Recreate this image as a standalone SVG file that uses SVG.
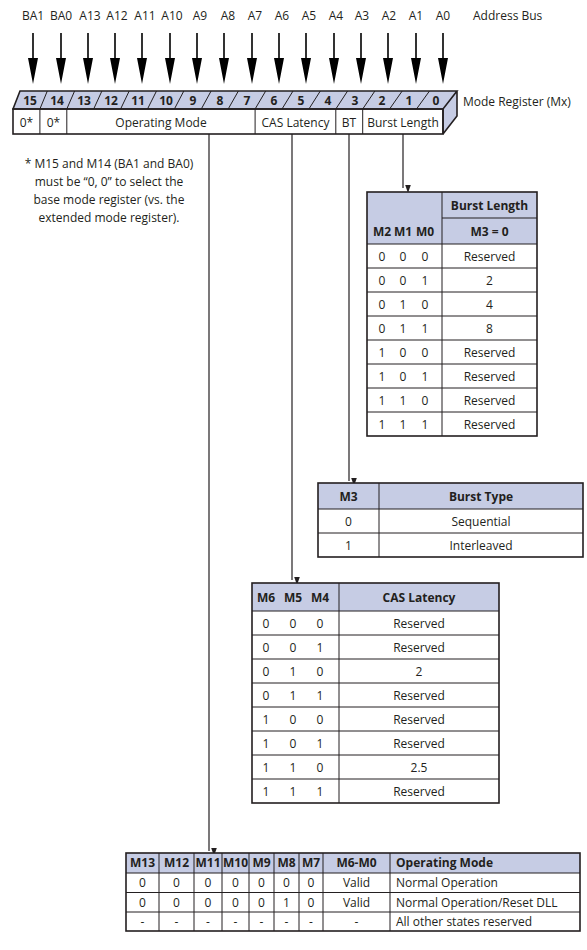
<svg xmlns="http://www.w3.org/2000/svg" width="587" height="950" viewBox="0 0 587 950">
<defs>
<style>
text{font-family:"Open Sans","Liberation Sans",sans-serif;fill:#231f20;font-size:12px}
.b{font-weight:bold}
.m{text-anchor:middle}
.hd{fill:#c6cce4}
.ln{stroke:#231f20;stroke-width:1;fill:none}
.ob{stroke:#231f20;stroke-width:1.6;fill:none}
.conn{stroke:#231f20;stroke-width:1.2;fill:none}
.bus{stroke:#000;stroke-width:1.6}
</style>
<marker id="ah" markerWidth="7" markerHeight="10" refX="3.5" refY="10" orient="auto" markerUnits="userSpaceOnUse" viewBox="0 0 7 10">
<path d="M0,0 L7,0 L3.5,10 Z" fill="#231f20" transform="rotate(-90 3.5 5)"/>
</marker>
</defs>
<rect width="587" height="950" fill="#fff"/>

<g id="address-bus">
<text class="m" x="33" y="20">BA1</text>
<text class="m" x="61" y="20">BA0</text>
<text class="m" x="90" y="20">A13</text>
<text class="m" x="117" y="20">A12</text>
<text class="m" x="145" y="20">A11</text>
<text class="m" x="172" y="20">A10</text>
<text class="m" x="200" y="20">A9</text>
<text class="m" x="228" y="20">A8</text>
<text class="m" x="255" y="20">A7</text>
<text class="m" x="282" y="20">A6</text>
<text class="m" x="309" y="20">A5</text>
<text class="m" x="336" y="20">A4</text>
<text class="m" x="362" y="20">A3</text>
<text class="m" x="389" y="20">A2</text>
<text class="m" x="416" y="20">A1</text>
<text class="m" x="443" y="20">A0</text>
<text x="473" y="20">Address Bus</text>
<g fill="#000">
<path class="bus" d="M33,33V60 M61,33V60 M88,33V60 M115,33V60 M142,33V60 M170,33V60 M197,33V60 M224,33V60 M252,33V60 M279,33V60 M306,33V60 M334,33V60 M361,33V60 M388,33V60 M416,33V60 M443,33V60"/>
<path d="M28,58h10l-5,26z M56,58h10l-5,26z M83,58h10l-5,26z M110,58h10l-5,26z M137,58h10l-5,26z M165,58h10l-5,26z M192,58h10l-5,26z M219,58h10l-5,26z M247,58h10l-5,26z M274,58h10l-5,26z M301,58h10l-5,26z M329,58h10l-5,26z M356,58h10l-5,26z M383,58h10l-5,26z M411,58h10l-5,26z M438,58h10l-5,26z"/>
</g>
</g>

<g id="mode-register">
<polygon points="13,109 20,91 457,91 443,109" class="hd"/>
<polygon points="443,109 457,91 457,116 443,134" class="hd"/>
<path class="ob" d="M13,109 L20,91 H457 L443,109 Z M443,109 V134 M457,91 V116 L443,134"/>
<path class="ln" d="M39.9,109 L47.3,91 M66.8,109 L74.6,91 M93.7,109 L101.9,91 M120.6,109 L129.2,91 M147.5,109 L156.5,91 M174.4,109 L183.8,91 M201.3,109 L211.1,91 M228.2,109 L238.4,91 M255.1,109 L265.7,91 M282,109 L293,91 M308.9,109 L320.3,91 M335.8,109 L347.6,91 M362.7,109 L374.9,91 M389.6,109 L402.2,91 M416.5,109 L429.5,91"/>
<g class="b">
<text class="m" x="30" y="105">15</text>
<text class="m" x="57" y="105">14</text>
<text class="m" x="84" y="105">13</text>
<text class="m" x="111" y="105">12</text>
<text class="m" x="138" y="105">11</text>
<text class="m" x="166" y="105">10</text>
<text class="m" x="193" y="105">9</text>
<text class="m" x="220" y="105">8</text>
<text class="m" x="247" y="105">7</text>
<text class="m" x="274" y="105">6</text>
<text class="m" x="301" y="105">5</text>
<text class="m" x="328" y="105">4</text>
<text class="m" x="355" y="105">3</text>
<text class="m" x="382" y="105">2</text>
<text class="m" x="409" y="105">1</text>
<text class="m" x="436" y="105">0</text>
</g>
<rect x="13" y="109" width="430" height="25" class="ob"/>
<path class="ln" d="M39.9,109V134 M66.8,109V134 M255.1,109V134 M335.8,109V134 M362.7,109V134"/>
<text class="m" x="26.5" y="127">0*</text>
<text class="m" x="53.4" y="127">0*</text>
<text class="m" x="161" y="127">Operating Mode</text>
<text class="m" x="295.5" y="127">CAS Latency</text>
<text class="m" x="349" y="127">BT</text>
<text class="m" x="403" y="127">Burst Length</text>
<text x="463" y="106">Mode Register (Mx)</text>
</g>

<g id="footnote">
<text class="m" x="109" y="168">* M15 and M14 (BA1 and BA0)</text>
<text class="m" x="109" y="186">must be “0, 0” to select the</text>
<text class="m" x="109" y="204">base mode register (vs. the</text>
<text class="m" x="109" y="222">extended mode register).</text>
</g>

<g id="connectors">
<path class="conn" d="M403,134V188" marker-end="url(#ah)"/>
<path class="conn" d="M349,134V481" marker-end="url(#ah)"/>
<path class="conn" d="M292,134V580" marker-end="url(#ah)"/>
<path class="conn" d="M209,134V851" marker-end="url(#ah)"/>
</g>

<g id="burst-length-table">
<rect x="367" y="192" width="170" height="52" class="hd"/>
<path class="ln" d="M442,192V436 M442,218H537 M367,244H537 M367,268H537 M367,292H537 M367,316H537 M367,340H537 M367,364H537 M367,388H537 M367,412H537"/>
<rect x="367" y="192" width="170" height="244" class="ob"/>
<g class="b">
<text class="m" x="489.5" y="210">Burst Length</text>
<text class="m" x="489.5" y="236">M3 = 0</text>
<text class="m" x="382" y="236">M2</text>
<text class="m" x="403" y="236">M1</text>
<text class="m" x="425" y="236">M0</text>
</g>
<g class="m">
<text x="382" y="261">0</text><text x="403" y="261">0</text><text x="425" y="261">0</text><text x="489.5" y="261">Reserved</text>
<text x="382" y="285">0</text><text x="403" y="285">0</text><text x="425" y="285">1</text><text x="489.5" y="285">2</text>
<text x="382" y="309">0</text><text x="403" y="309">1</text><text x="425" y="309">0</text><text x="489.5" y="309">4</text>
<text x="382" y="333">0</text><text x="403" y="333">1</text><text x="425" y="333">1</text><text x="489.5" y="333">8</text>
<text x="382" y="357">1</text><text x="403" y="357">0</text><text x="425" y="357">0</text><text x="489.5" y="357">Reserved</text>
<text x="382" y="381">1</text><text x="403" y="381">0</text><text x="425" y="381">1</text><text x="489.5" y="381">Reserved</text>
<text x="382" y="405">1</text><text x="403" y="405">1</text><text x="425" y="405">0</text><text x="489.5" y="405">Reserved</text>
<text x="382" y="429">1</text><text x="403" y="429">1</text><text x="425" y="429">1</text><text x="489.5" y="429">Reserved</text>
</g>
</g>

<g id="burst-type-table">
<rect x="318" y="483" width="265" height="26" class="hd"/>
<path class="ln" d="M379,483V557 M318,509H583 M318,533H583"/>
<rect x="318" y="483" width="265" height="74" class="ob"/>
<text class="m b" x="348.5" y="501">M3</text>
<text class="m b" x="481" y="501">Burst Type</text>
<text class="m" x="348.5" y="526">0</text><text class="m" x="481" y="526">Sequential</text>
<text class="m" x="348.5" y="550">1</text><text class="m" x="481" y="550">Interleaved</text>
</g>

<g id="cas-latency-table">
<rect x="252" y="583" width="247" height="28" class="hd"/>
<path class="ln" d="M339,583V803 M252,611H499 M252,635H499 M252,659H499 M252,683H499 M252,707H499 M252,731H499 M252,755H499 M252,779H499"/>
<rect x="252" y="583" width="247" height="220" class="ob"/>
<g class="b">
<text class="m" x="266" y="602">M6</text>
<text class="m" x="293" y="602">M5</text>
<text class="m" x="320" y="602">M4</text>
<text class="m" x="419" y="602">CAS Latency</text>
</g>
<g class="m">
<text x="266" y="628">0</text><text x="293" y="628">0</text><text x="320" y="628">0</text><text x="419" y="628">Reserved</text>
<text x="266" y="652">0</text><text x="293" y="652">0</text><text x="320" y="652">1</text><text x="419" y="652">Reserved</text>
<text x="266" y="676">0</text><text x="293" y="676">1</text><text x="320" y="676">0</text><text x="419" y="676">2</text>
<text x="266" y="700">0</text><text x="293" y="700">1</text><text x="320" y="700">1</text><text x="419" y="700">Reserved</text>
<text x="266" y="724">1</text><text x="293" y="724">0</text><text x="320" y="724">0</text><text x="419" y="724">Reserved</text>
<text x="266" y="748">1</text><text x="293" y="748">0</text><text x="320" y="748">1</text><text x="419" y="748">Reserved</text>
<text x="266" y="772">1</text><text x="293" y="772">1</text><text x="320" y="772">0</text><text x="419" y="772">2.5</text>
<text x="266" y="796">1</text><text x="293" y="796">1</text><text x="320" y="796">1</text><text x="419" y="796">Reserved</text>
</g>
</g>

<g id="operating-mode-table">
<rect x="126" y="853" width="454" height="20" class="hd"/>
<path class="ln" d="M159,853V931 M194,853V931 M222,853V931 M249,853V931 M274,853V931 M299,853V931 M323,853V931 M390,853V931 M126,873H580 M126,892.5H580 M126,912H580"/>
<rect x="126" y="853" width="454" height="78" class="ob"/>
<g class="b">
<text class="m" x="142.5" y="867">M13</text>
<text class="m" x="176.5" y="867">M12</text>
<text class="m" x="208" y="867">M11</text>
<text class="m" x="235.5" y="867">M10</text>
<text class="m" x="261.5" y="867">M9</text>
<text class="m" x="286.5" y="867">M8</text>
<text class="m" x="311" y="867">M7</text>
<text class="m" x="356.5" y="867">M6-M0</text>
<text x="396" y="867">Operating Mode</text>
</g>
<g class="m">
<text x="142.5" y="887">0</text><text x="176.5" y="887">0</text><text x="208" y="887">0</text><text x="235.5" y="887">0</text><text x="261.5" y="887">0</text><text x="286.5" y="887">0</text><text x="311" y="887">0</text><text x="356.5" y="887">Valid</text>
<text x="142.5" y="906.5">0</text><text x="176.5" y="906.5">0</text><text x="208" y="906.5">0</text><text x="235.5" y="906.5">0</text><text x="261.5" y="906.5">0</text><text x="286.5" y="906.5">1</text><text x="311" y="906.5">0</text><text x="356.5" y="906.5">Valid</text>
<text x="142.5" y="926">-</text><text x="176.5" y="926">-</text><text x="208" y="926">-</text><text x="235.5" y="926">-</text><text x="261.5" y="926">-</text><text x="286.5" y="926">-</text><text x="311" y="926">-</text><text x="356.5" y="926">-</text>
</g>
<text x="396" y="887">Normal Operation</text>
<text x="396" y="906.5">Normal Operation/Reset DLL</text>
<text x="396" y="926">All other states reserved</text>
</g>
</svg>
